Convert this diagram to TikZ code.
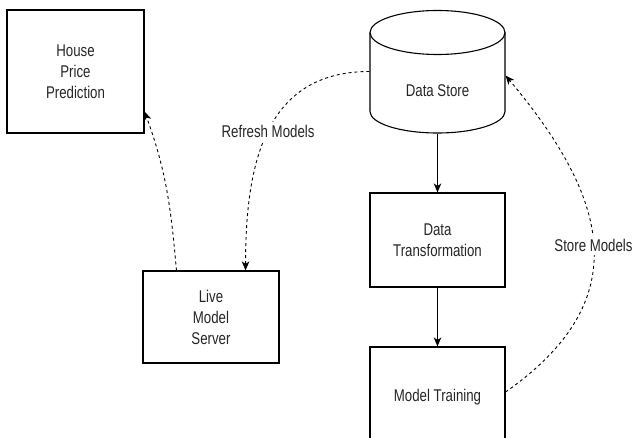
\documentclass[tikz,border=0pt]{standalone}
\usepackage{fontspec}
\setmainfont{Liberation Sans}[FakeStretch=0.78]
\usetikzlibrary{arrows.meta}
\begin{document}
\begin{tikzpicture}[x=1pt,y=-1pt,line width=1.1pt,
  txt/.style={align=center,font=\fontsize{17}{21}\selectfont,text=black!85},
  box/.style={txt,draw,minimum width=136pt},
  flow/.style={-{Stealth[length=9pt,width=7.5pt,inset=2.5pt]}},
  link/.style={flow,line width=0.9pt,dash pattern=on 3pt off 3pt}]
\useasboundingbox (0,0) rectangle (637,438);
\clip (0,0) rectangle (637,438);
% boxes
\node[box,minimum width=137pt,minimum height=123pt] (house) at (75.5,71.5) {House\\Price\\Prediction};
\node[box,minimum height=92pt] (srv) at (211,317) {Live\\Model\\Server};
\node[box,minimum width=135pt,minimum height=94pt] (tf) at (437.5,240) {Data\\Transformation};
\node[box,minimum width=135pt,minimum height=100pt] (train) at (437.5,397) {Model Training};
% data store drawn as a cylinder
\node[minimum width=135pt,minimum height=123pt,inner sep=0pt] (store) at (437.5,71.5) {};
\draw (370,32.5) -- (370,111.5) arc[start angle=180,end angle=360,x radius=67.5pt,y radius=21.5pt]
  -- (505,32.5) arc[start angle=0,end angle=180,x radius=67.5pt,y radius=22pt];
\draw (370,32.5) arc[start angle=180,end angle=360,x radius=67.5pt,y radius=22pt];
\node[txt] (storetxt) at (437.5,91) {Data Store};
% connectors
\draw[flow] (store.south) -- (tf.north);
\draw[flow] (tf.south) -- (train.north);
\draw[link] ([xshift=34pt]srv.north west) to[out=95,in=-70] ([yshift=22pt]house.south east);
\draw[link] (store.west) to[out=180,in=90,looseness=1.15]
  node[txt,fill=white,pos=0.5] (refresh) {Refresh Models} ([xshift=-34pt]srv.north east);
\draw[link] ([yshift=5pt]train.east) to[out=35,in=-50,looseness=1.3]
  node[txt,fill=white,pos=0.5] (storemod) {Store Models} ([yshift=-4pt]store.east);
\end{tikzpicture}
\end{document}
